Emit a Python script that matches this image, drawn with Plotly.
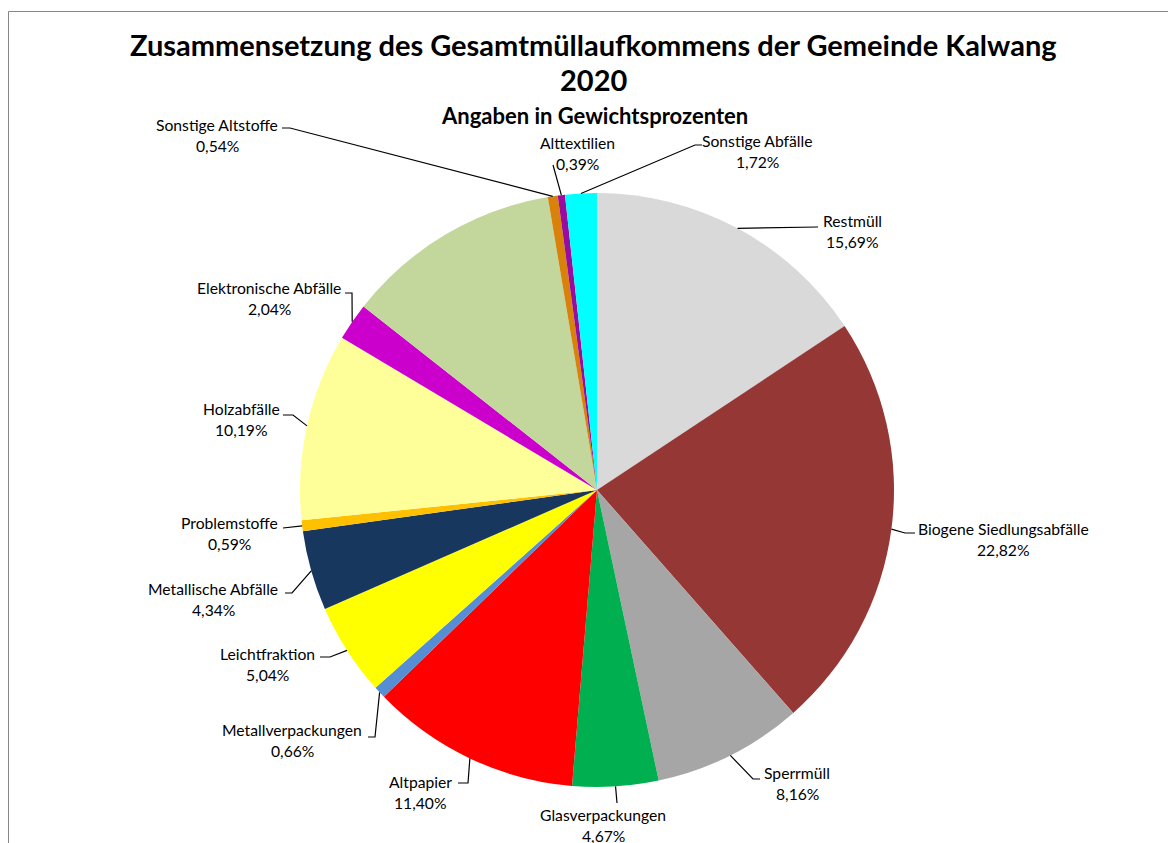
import math
import plotly.graph_objects as go

# ---- data ----
categories = ["Restmüll", "Biogene Siedlungsabfälle", "Sperrmüll", "Glasverpackungen",
              "Altpapier", "Metallverpackungen", "Leichtfraktion", "Metallische Abfälle",
              "Problemstoffe", "Holzabfälle", "Elektronische Abfälle", "Übrige",
              "Sonstige Altstoffe", "Alttextilien", "Sonstige Abfälle"]
values = [15.69, 22.82, 8.16, 4.67, 11.40, 0.66, 5.04, 4.34, 0.59, 10.19, 2.04, 11.75,
          0.54, 0.39, 1.72]
show_label = [True, True, True, True, True, True, True, True, True, True, True, False,
              True, True, True]
title_lines = ["Zusammensetzung des Gesamtmüllaufkommens der Gemeinde Kalwang", "2020"]
subtitle = "Angaben in Gewichtsprozenten"

# ---- styles / layout ----
colors = ["#D9D9D9", "#953735", "#A6A6A6", "#00B050", "#FF0000", "#558ED5", "#FFFF00",
          "#17375E", "#FFC000", "#FFFF99", "#CC00CC", "#C3D69B", "#D9820B", "#9A0BA0",
          "#00FFFF"]
W, H = 1176, 843
OFF = 8  # page body margin offset
CX, CY, R = 597, 490, 297
FONT = "Lato"
LBL_SIZE = 15.7

# label text centre (first line) and leader-line path points (pixels) per slice
label_pos = {
    0: (852, 221), 1: (1003, 529), 2: (797, 773), 3: (603, 815), 4: (421, 782),
    5: (292, 730), 6: (267, 654), 7: (213, 589), 8: (230, 523), 9: (241, 409),
    10: (269, 288), 12: (217, 125), 13: (577, 143), 14: (757, 141),
}
leader_pts = {
    0: [(818, 227)],
    1: [(905, 533), (915, 533)],
    2: [(753, 779), (760, 779)],
    3: [(617, 803)],
    4: [(468, 783), (458, 783)],
    5: [(375, 737), (368, 737)],
    6: [(330, 657), (320, 657)],
    7: [(292, 593), (285, 593)],
    8: [(283, 528)],
    9: [(293, 415), (283, 415)],
    10: [(352, 293), (345, 293)],
    12: [(290, 128), (282, 128)],
    13: [(553, 165)],
    14: [(695, 145), (702, 145)],
}


def px(x):
    return (x - OFF) / W


def py(y):
    return 1 - (y - OFF) / H


fig = go.Figure()
fig.add_trace(go.Pie(
    labels=categories, values=values, sort=False, direction="clockwise", rotation=0,
    marker=dict(colors=colors, line=dict(width=0)), textinfo="none", hoverinfo="label+percent",
    domain=dict(x=[px(CX - R), px(CX + R)], y=[py(CY + R), py(CY - R)]),
    showlegend=False,
))

shapes = []
annotations = []
total = sum(values)
cum = 0.0
for i, v in enumerate(values):
    mid = (cum + v / 2) / total * 2 * math.pi
    cum += v
    if not show_label[i]:
        continue
    ex = CX + R * math.sin(mid)
    ey = CY - R * math.cos(mid)
    pts = [(ex, ey)] + leader_pts[i]
    path = "M " + " L ".join(f"{px(x):.5f},{py(y):.5f}" for x, y in pts)
    shapes.append(dict(type="path", xref="paper", yref="paper", path=path,
                       line=dict(color="black", width=1.2), layer="above"))
    lx, ly = label_pos[i]
    pct = f"{v:.2f}".replace(".", ",") + "%"
    for k, t in enumerate([categories[i], pct]):
        annotations.append(dict(x=px(lx), y=py(ly + 21 * k), xref="paper", yref="paper",
                                text=t, showarrow=False, xanchor="center", yanchor="middle",
                                font=dict(family=FONT, size=LBL_SIZE, color="black")))

# titles
annotations.append(dict(x=px(593), y=py(45), xref="paper", yref="paper", text=f"<b>{title_lines[0]}</b>",
                        showarrow=False, xanchor="center", yanchor="middle",
                        font=dict(family=FONT, size=29, color="black")))
annotations.append(dict(x=px(593), y=py(80), xref="paper", yref="paper", text=f"<b>{title_lines[1]}</b>",
                        showarrow=False, xanchor="center", yanchor="middle",
                        font=dict(family=FONT, size=29, color="black")))
annotations.append(dict(x=px(594), y=py(115), xref="paper", yref="paper", text=f"<b>{subtitle}</b>",
                        showarrow=False, xanchor="center", yanchor="middle",
                        font=dict(family=FONT, size=22, color="black")))

# chart-area border (top and left edges visible)
shapes.append(dict(type="line", xref="paper", yref="paper", x0=px(8.5), y0=py(11.5), x1=1, y1=py(11.5),
                   line=dict(color="#868686", width=1)))
shapes.append(dict(type="line", xref="paper", yref="paper", x0=px(8.5), y0=py(11.5), x1=px(8.5), y1=0,
                   line=dict(color="#868686", width=1)))

fig.update_layout(
    width=W, height=H, margin=dict(l=0, r=0, t=0, b=0),
    paper_bgcolor="white", plot_bgcolor="white",
    shapes=shapes, annotations=annotations, showlegend=False,
)
fig.write_html("out.html")
